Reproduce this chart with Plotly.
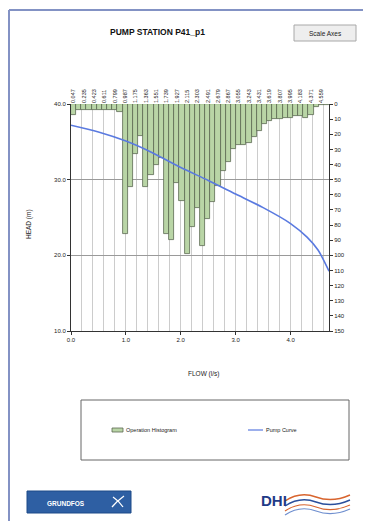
import plotly.graph_objects as go

# ---- data -------------------------------------------------------------
# Operation histogram: bin centres of flow (l/s) and hours in each bin
bin_labels = [
    "0.047", "0.141", "0.235", "0.329", "0.423", "0.517", "0.611", "0.705", "0.799", "0.893",
    "0.987", "1.081", "1.175", "1.269", "1.363", "1.457", "1.551", "1.645", "1.739", "1.833",
    "1.927", "2.021", "2.115", "2.209", "2.303", "2.397", "2.491", "2.585", "2.679", "2.773",
    "2.867", "2.961", "3.055", "3.149", "3.243", "3.337", "3.431", "3.525", "3.619", "3.713",
    "3.807", "3.901", "3.995", "4.089", "4.183", "4.277", "4.371", "4.465", "4.559", "4.653",
]
hist_values = [
    7, 4, 4, 4, 4, 4, 4, 4, 4, 5,
    86, 55, 33, 21, 55, 47, 40, 36, 86, 90,
    52, 64, 99, 81, 69, 94, 76, 65, 54, 44,
    38, 30, 27, 27, 26, 22, 18, 13, 11, 10,
    10, 9, 9, 8, 8, 9, 7, 2, 0.5, 0.5,
]

# Pump curve: flow (l/s) vs head (m)
pump_flow = [0.0, 0.5, 1.0, 1.5, 2.0, 2.5, 3.0, 3.5, 4.0, 4.3, 4.5, 4.7]
pump_head = [37.2, 36.3, 35.1, 33.5, 31.6, 29.9, 28.1, 26.3, 24.2, 22.4, 20.7, 17.9]

flow_ticks = [0.0, 1.0, 2.0, 3.0, 4.0]
head_ticks = [10, 20, 30, 40]
hours_ticks = list(range(0, 151, 10))

# ---- layout geometry (pixels) -----------------------------------------
FIG_W, FIG_H = 365, 521
L, R, T, B = 71, 329, 104, 331
PW, PH = R - L, B - T


def X(px):
    return (px - L) / PW


def Y(py):
    return (B - py) / PH


FONT = "Liberation Sans, Arial, sans-serif"
TXT = "#222222"
BAR_FILL = "#b9d5a6"
BAR_EDGE = "#5a6852"
CURVE = "#5a7ae0"

fig = go.Figure()

# histogram: base subplot (top category axis, right hours axis)
fig.add_trace(go.Bar(
    x=bin_labels, y=hist_values, xaxis="x", yaxis="y",
    marker=dict(color=BAR_FILL, line=dict(color=BAR_EDGE, width=0.8)),
    name="Operation Histogram", showlegend=False,
))

# pump curve: overlay subplot (bottom flow axis, left head axis), drawn above the bars
fig.add_trace(go.Scatter(
    x=pump_flow, y=pump_head, mode="lines", xaxis="x2", yaxis="y2",
    line=dict(color=CURVE, width=1.6, shape="spline", smoothing=0.8),
    name="Pump Curve", showlegend=False,
))

axis_font = dict(family=FONT, size=6, color=TXT)

fig.update_layout(
    width=FIG_W, height=FIG_H,
    margin=dict(l=L, r=FIG_W - R, t=T, b=FIG_H - B, pad=0),
    paper_bgcolor="white", plot_bgcolor="white",
    bargap=0,
    font=dict(family=FONT, color=TXT),
    xaxis=dict(
        side="top", anchor="y", type="category",
        range=[-0.5, len(bin_labels) - 0.5],
        tickmode="array", tickvals=bin_labels[::2], ticktext=bin_labels[::2],
        tickangle=-90, tickfont=dict(family=FONT, size=5.5, color=TXT),
        showgrid=False, showline=False, ticks="", zeroline=False,
    ),
    yaxis=dict(
        side="right", anchor="x",
        range=[150, 0], tickmode="array", tickvals=hours_ticks,
        tickfont=axis_font,
        showline=True, linecolor="#333", linewidth=1,
        ticks="outside", ticklen=3, tickcolor="#333",
        showgrid=False, zeroline=False,
    ),
    xaxis2=dict(
        overlaying="x", side="bottom", anchor="y2",
        range=[0, 4.7], tickmode="array", tickvals=flow_ticks,
        tickformat=".1f", tickfont=axis_font,
        showline=True, linecolor="#333", linewidth=1,
        ticks="outside", ticklen=3, tickcolor="#333",
        showgrid=False, zeroline=False,
        minor=dict(dtick=0.2, showgrid=True, gridcolor="#cccccc", gridwidth=0.8, ticks=""),
    ),
    yaxis2=dict(
        overlaying="y", side="left", anchor="x2",
        range=[10, 40], tickmode="array", tickvals=head_ticks,
        tickformat=".1f", tickfont=axis_font,
        showline=True, linecolor="#333", linewidth=1,
        ticks="outside", ticklen=3, tickcolor="#333",
        showgrid=True, gridcolor="#9a9a9a", gridwidth=0.8, zeroline=False,
    ),
)

shapes = []
ann = []


def label(text, px, py, size, color=TXT, xanchor="center", angle=0):
    ann.append(dict(text=text, xref="paper", yref="paper", x=X(px), y=Y(py),
                    xanchor=xanchor, yanchor="middle", textangle=angle,
                    showarrow=False, font=dict(family=FONT, size=size, color=color)))


# outer frame of the report page
shapes.append(dict(type="line", xref="paper", yref="paper", x0=X(9), x1=X(9), y0=Y(10), y1=Y(521),
                   line=dict(color="#8392c4", width=2)))
shapes.append(dict(type="line", xref="paper", yref="paper", x0=X(9), x1=X(363), y0=Y(10), y1=Y(10),
                   line=dict(color="#8392c4", width=2)))

# title
label("<b>PUMP STATION P41_p1</b>", 157, 32, 8.5, "#111")

# "Scale Axes" button
shapes.append(dict(type="rect", xref="paper", yref="paper", x0=X(294), x1=X(356), y0=Y(41), y1=Y(25),
                   fillcolor="#eeeeee", line=dict(color="#a8a8a8", width=1)))
label("Scale Axes", 325, 33, 6.5, "#222")

# axis titles
label("HEAD (m)", 29, 224, 6.5, angle=-90)
label("FLOW (l/s)", 203, 374, 6.5)

# legend box
shapes.append(dict(type="rect", xref="paper", yref="paper", x0=X(81), x1=X(349), y0=Y(460), y1=Y(400),
                   fillcolor="white", line=dict(color="#666", width=1)))
shapes.append(dict(type="rect", xref="paper", yref="paper", x0=X(112), x1=X(123), y0=Y(432), y1=Y(428),
                   fillcolor=BAR_FILL, line=dict(color=BAR_EDGE, width=0.8)))
label("Operation Histogram", 124, 430, 5.5, xanchor="left")
shapes.append(dict(type="line", xref="paper", yref="paper", x0=X(248), x1=X(263), y0=Y(430), y1=Y(430),
                   line=dict(color=CURVE, width=1.2)))
label("Pump Curve", 264, 430, 5.5, xanchor="left")

# GRUNDFOS logo
shapes.append(dict(type="rect", xref="paper", yref="paper", x0=X(27), x1=X(131), y0=Y(513), y1=Y(491),
                   fillcolor="#2e5fa3", line=dict(color="#1d4a88", width=1)))
label("<b>GRUNDFOS</b>", 66, 503, 6.5, "white")
shapes.append(dict(type="path", xref="paper", yref="paper",
                   path=f"M {X(112)},{Y(507)} Q {X(117)},{Y(501)} {X(124)},{Y(496)}",
                   line=dict(color="white", width=1.3)))
shapes.append(dict(type="path", xref="paper", yref="paper",
                   path=f"M {X(113)},{Y(497)} Q {X(119)},{Y(501)} {X(123)},{Y(507)}",
                   line=dict(color="white", width=1.3)))

# DHI logo
label("<b>DHI</b>", 274, 500, 15, "#1f3b87")
for y0, col, w in [(497, "#d8642e", 1.4), (502, "#2a4f9c", 1.4), (507, "#d8642e", 1.2), (511, "#6f8fcf", 1.2)]:
    shapes.append(dict(type="path", xref="paper", yref="paper",
                       path=(f"M {X(285)},{Y(y0 + 4)} Q {X(300)},{Y(y0 - 6)} {X(316)},{Y(y0)} "
                             f"T {X(350)},{Y(y0 - 2)}"),
                       line=dict(color=col, width=w)))

fig.update_layout(shapes=shapes, annotations=ann)

fig.write_html("out.html")
